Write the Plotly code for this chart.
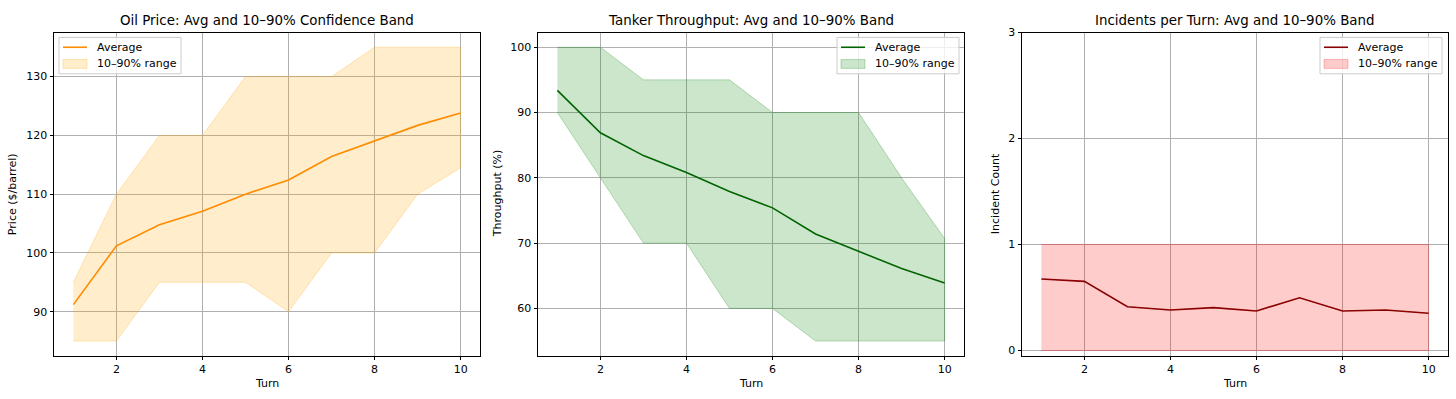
import plotly.graph_objects as go

turns = [1, 2, 3, 4, 5, 6, 7, 8, 9, 10]

oil_avg = [91.2, 101.2, 104.8, 107.1, 110.0, 112.4, 116.4, 119.0, 121.7, 123.8]
oil_p10 = [85, 85, 95, 95, 95, 90, 100, 100, 110, 114.5]
oil_p90 = [95, 110, 120, 120, 130, 130, 130, 135, 135, 135]

tank_avg = [93.4, 86.9, 83.4, 80.8, 77.9, 75.4, 71.4, 68.8, 66.1, 63.9]
tank_p10 = [90, 80, 70, 70, 60, 60, 55, 55, 55, 55]
tank_p90 = [100, 100, 95, 95, 95, 90, 90, 90, 80, 70.7]

inc_avg = [0.674, 0.652, 0.413, 0.382, 0.404, 0.373, 0.497, 0.373, 0.382, 0.351]
inc_p10 = [0, 0, 0, 0, 0, 0, 0, 0, 0, 0]
inc_p90 = [1, 1, 1, 1, 1, 1, 1, 1, 1, 1]

titles = ["Oil Price: Avg and 10–90% Confidence Band",
          "Tanker Throughput: Avg and 10–90% Band",
          "Incidents per Turn: Avg and 10–90% Band"]
ylabels = ["Price ($/barrel)", "Throughput (%)", "Incident Count"]
xlabel = "Turn"
legend_labels = ["Average", "10–90% range"]

W, H = 1456, 399
FONT = "DejaVu Sans"
fs_tick = 11
fs_title = 13.4

panels = [
    dict(avg=oil_avg, lo=oil_p10, hi=oil_p90, line="#ff8c00", fill="rgba(255,165,0,0.2)",
         edge="rgba(255,165,0,0.25)",
         x0=54, x1=480, yr=[82.5, 137.5], dtick=10, ylab_x=12, leg_left=59),
    dict(avg=tank_avg, lo=tank_p10, hi=tank_p90, line="#006400", fill="rgba(0,128,0,0.2)",
         edge="rgba(0,128,0,0.25)",
         x0=538, x1=964, yr=[52.75, 102.25], dtick=10, ylab_x=497, leg_left=837),
    dict(avg=inc_avg, lo=inc_p10, hi=inc_p90, line="#8b0000", fill="rgba(255,0,0,0.2)",
         edge="rgba(255,0,0,0.25)",
         x0=1022, x1=1448, yr=[-0.05, 3], dtick=1, ylab_x=995, leg_left=1320),
]

top_px, bot_px = 27, 356
ydom = [1 - bot_px / H, 1 - top_px / H]


def px(x):
    return x / W


def py(y):
    return 1 - y / H


fig = go.Figure()
annotations = []
shapes = []
layout = {}
for i, p in enumerate(panels):
    n = "" if i == 0 else str(i + 1)
    xa, ya = "x" + n, "y" + n
    fig.add_trace(go.Scatter(
        x=turns + turns[::-1], y=p["hi"] + p["lo"][::-1],
        fill="toself", fillcolor=p["fill"], mode="lines",
        line=dict(color=p["edge"], width=1),
        name=legend_labels[1], xaxis=xa, yaxis=ya, showlegend=False,
        hoverinfo="skip"))
    fig.add_trace(go.Scatter(
        x=turns, y=p["avg"], mode="lines",
        line=dict(color=p["line"], width=1.6),
        name=legend_labels[0], xaxis=xa, yaxis=ya, showlegend=False))
    axcommon = dict(showline=True, linecolor="black", linewidth=1, mirror=True,
                    ticks="outside", ticklen=3.5, tickwidth=1, tickcolor="black",
                    showgrid=True, gridcolor="#b0b0b0", gridwidth=0.8,
                    zeroline=False, tickfont=dict(family=FONT, size=fs_tick, color="black"))
    layout["xaxis" + n] = dict(domain=[p["x0"] / W, p["x1"] / W], range=[0.55, 10.45],
                               tickmode="array", tickvals=[2, 4, 6, 8, 10],
                               anchor=ya, **axcommon)
    layout["yaxis" + n] = dict(domain=ydom, range=p["yr"], dtick=p["dtick"], tick0=0,
                               anchor=xa, **axcommon)
    cx = (p["x0"] + p["x1"]) / 2 / W
    annotations.append(dict(text=titles[i], x=cx, y=py(top_px), xref="paper", yref="paper",
                            xanchor="center", yanchor="bottom", yshift=3, showarrow=False,
                            font=dict(family=FONT, size=fs_title, color="black")))
    annotations.append(dict(text=xlabel, x=cx, y=py(384), xref="paper", yref="paper",
                            xanchor="center", yanchor="middle", showarrow=False,
                            font=dict(family=FONT, size=fs_tick, color="black")))
    annotations.append(dict(text=ylabels[i], x=px(p["ylab_x"]), y=(ydom[0] + ydom[1]) / 2,
                            xref="paper", yref="paper", xanchor="center", yanchor="middle",
                            textangle=-90, showarrow=False,
                            font=dict(family=FONT, size=fs_tick, color="black")))
    # legend box (drawn like matplotlib's)
    L = p["leg_left"]
    shapes.append(dict(type="rect", xref="paper", yref="paper",
                       x0=px(L), x1=px(L + 122), y0=py(69), y1=py(32),
                       line=dict(color="#cccccc", width=1), fillcolor="rgba(255,255,255,0.8)",
                       layer="above"))
    shapes.append(dict(type="line", xref="paper", yref="paper",
                       x0=px(L + 4), x1=px(L + 28), y0=py(42), y1=py(42),
                       line=dict(color=p["line"], width=1.6), layer="above"))
    shapes.append(dict(type="rect", xref="paper", yref="paper",
                       x0=px(L + 4), x1=px(L + 28), y0=py(63.5), y1=py(54.5),
                       line=dict(color=p["edge"], width=1), fillcolor=p["fill"], layer="above"))
    for lab, yy in zip(legend_labels, [42, 59]):
        annotations.append(dict(text=lab, x=px(L + 36), y=py(yy), xref="paper", yref="paper",
                                xanchor="left", yanchor="middle", showarrow=False,
                                font=dict(family=FONT, size=fs_tick, color="black")))

fig.update_layout(width=W, height=H, margin=dict(l=0, r=0, t=0, b=0),
                  paper_bgcolor="white", plot_bgcolor="white",
                  annotations=annotations, shapes=shapes, showlegend=False,
                  font=dict(family=FONT, size=fs_tick, color="black"), **layout)
fig.write_html("out.html", config={"displayModeBar": False},
               post_script="document.body.style.margin='0';document.body.style.overflow='hidden';")
